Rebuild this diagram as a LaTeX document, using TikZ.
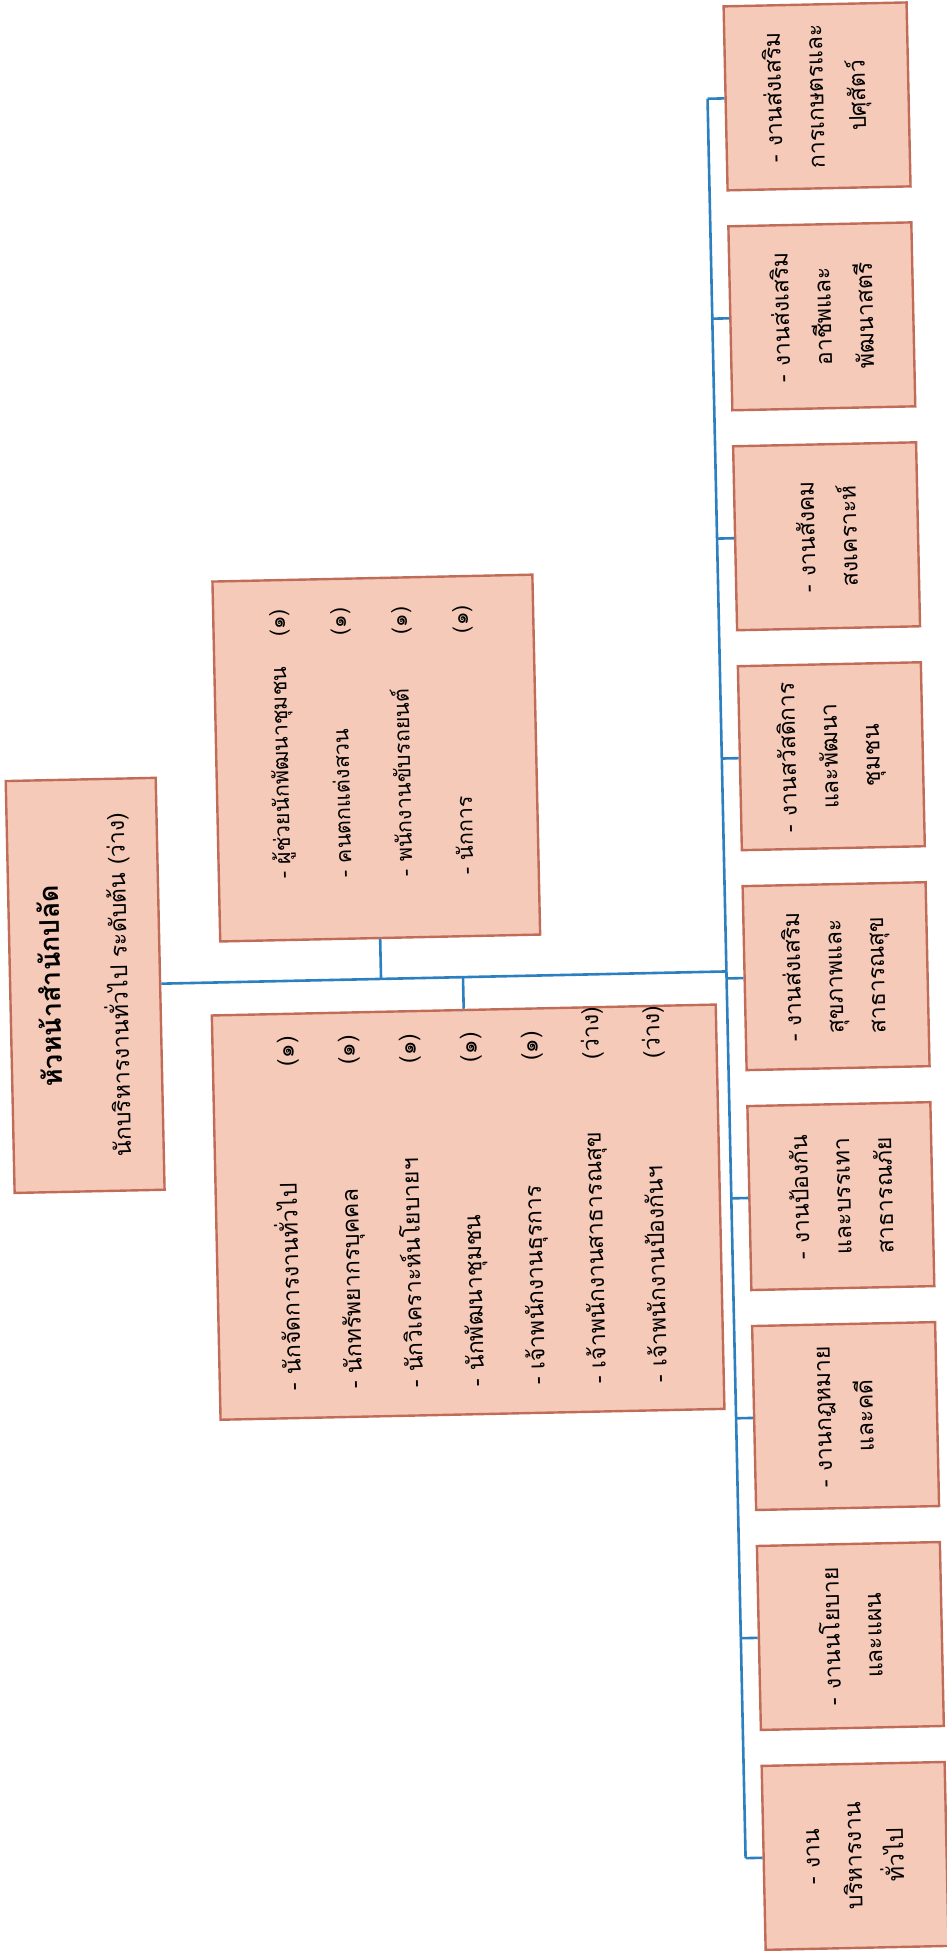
\documentclass[tikz,border=0pt]{standalone}
\usepackage{fontspec}
\newfontfamily\thaifont[Script=Thai]{Loma}
\usetikzlibrary{calc}
\definecolor{boxfill}{RGB}{246,202,184}
\definecolor{boxline}{RGB}{192,108,88}
\definecolor{linkblue}{RGB}{44,128,192}
\tikzset{every node/.style={transform shape, inner sep=0pt},
  unit/.style={draw=boxline, line width=2.4pt, fill=boxfill, rotate=90, align=center,
    font=\thaifont\fontsize{23}{42}\selectfont},
  chief/.style={unit, font=\thaifont\fontsize{23}{67}\selectfont},
  task/.style={unit, minimum width=184pt, minimum height=183pt},
  link/.style={linkblue, line width=2.6pt}}

\begin{document}
\begin{tikzpicture}[x=1pt,y=-1pt]
  \useasboundingbox (0,0) rectangle (947,1951);
  \begin{scope}[rotate around={1.24:(473,975)}]
   \node[chief, minimum width=412pt, minimum height=150pt] (head) at (85,977)
     {{\bfseries\fontsize{27}{67}\selectfont หัวหน้าสำนักปลัด}\\นักบริหารงานทั่วไป ระดับต้น (ว่าง)};
   \node[unit, minimum width=360pt, minimum height=320pt] (aides) at (381,756)
     {\fontsize{21.5}{61}\selectfont\raisebox{9pt}[\height][\depth]{%
      \begin{tabular}{@{\hspace{32pt}}p{230pt}l@{}}
       - ผู้ช่วยนักพัฒนาชุมชน & (๑)\\
       - คนตกแต่งสวน & (๑)\\
       - พนักงานขับรถยนต์ & (๑)\\
       - นักการ & (๑)
      \end{tabular}}};
   \node[unit, minimum width=402pt, minimum height=504pt] (officers) at (463,1212)
     {\fontsize{23}{61}\selectfont
      \begin{tabular}{@{\hspace{28pt}}p{312pt}l@{}}
       - นักจัดการงานทั่วไป & (๑)\\
       - นักทรัพยากรบุคคล & (๑)\\
       - นักวิเคราะห์นโยบายฯ & (๑)\\
       - นักพัฒนาชุมชน & (๑)\\
       - เจ้าพนักงานธุรการ & (๑)\\
       - เจ้าพนักงานสาธารณสุข & (ว่าง)\\
       - เจ้าพนักงานป้องกันฯ & (ว่าง)
      \end{tabular}};
   \foreach \k/\txt in {0/{- งานส่งเสริม\\การเกษตรและ\\ปศุสัตว์},
                       1/{- งานส่งเสริม\\อาชีพและ\\พัฒนาสตรี},
                       2/{- งานสังคม\\สงเคราะห์},
                       3/{- งานสวัสดิการ\\และพัฒนา\\ชุมชน},
                       4/{- งานส่งเสริม\\สุขภาพและ\\สาธารณสุข},
                       5/{- งานป้องกัน\\และบรรเทา\\สาธารณภัย},
                       6/{- งานกฎหมาย\\และคดี},
                       7/{- งานนโยบาย\\และแผน},
                       8/{- งาน\\บริหารงาน\\ทั่วไป}}
     \node[task] (task\k) at (836,104+220*\k) {\txt};

   \coordinate (bustop) at (726.5,104);
   \coordinate (busbot) at (726.5,1864);
   \draw[link] (bustop) -- (busbot);
   \foreach \k in {0,...,8}
     \draw[link] (task\k.north) -- ($(bustop)!(task\k.north)!(busbot)$);
   \draw[link] (head.south) -- ($(bustop)!(head.south)!(busbot)$) coordinate (join);
   \draw[link] (aides.west) -- ($(head.south)!(aides.west)!(join)$);
   \draw[link] (officers.east) -- ($(head.south)!(officers.east)!(join)$);
  \end{scope}
\end{tikzpicture}
\end{document}
